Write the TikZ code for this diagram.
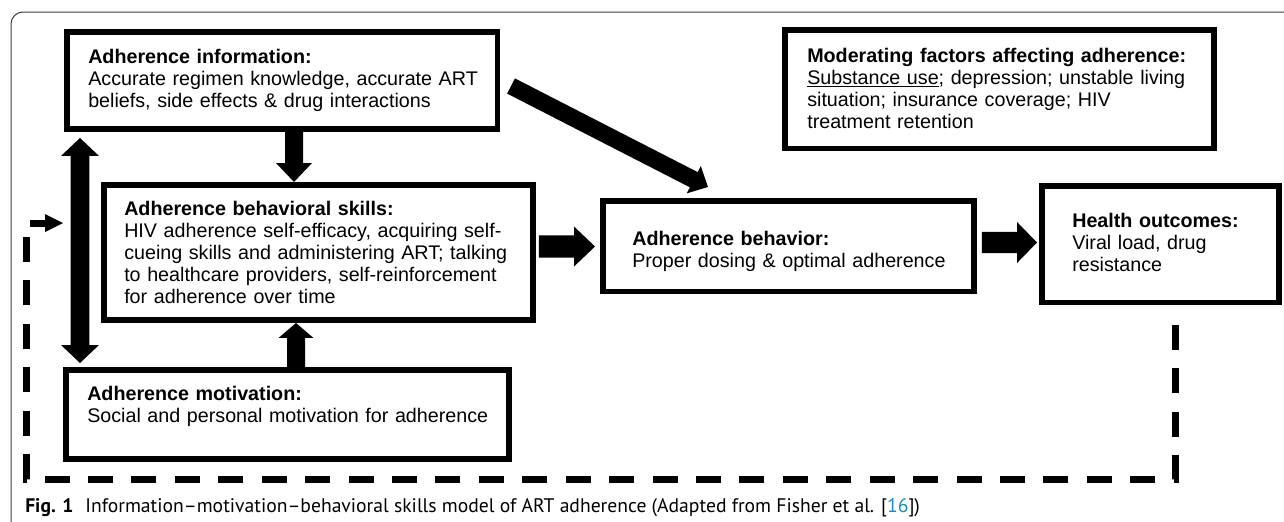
\documentclass[tikz,border=0pt]{standalone}
\usepackage{fontspec}
\usepackage{graphicx}
\setmainfont{Liberation Sans}
\newfontfamily\capfont{PT Sans}
\usetikzlibrary{calc}
\definecolor{refblue}{RGB}{30,136,210}
\newcommand{\fsz}{\fontsize{14.78pt}{16.5pt}\selectfont}
% block arrow: from A to B, shaft half width, head half width, head length
\newcommand{\barrow}[5]{%
  \path ($(#2)!#5!(#1)$) coordinate (bC);
  \fill ($(#1)!#3!90:(#2)$) -- ($(bC)!#3!90:(#2)$) -- ($(bC)!#4!90:(#2)$) -- (#2)
    -- ($(bC)!#4!-90:(#2)$) -- ($(bC)!#3!-90:(#2)$) -- ($(#1)!#3!-90:(#2)$) -- cycle;}
% double block arrow
\newcommand{\dbarrow}[5]{%
  \path ($(#1)!#5!(#2)$) coordinate (dC1) ($(#2)!#5!(#1)$) coordinate (dC2);
  \fill (#1) -- ($(dC1)!#4!90:(#2)$) -- ($(dC1)!#3!90:(#2)$) -- ($(dC2)!#3!90:(#2)$)
    -- ($(dC2)!#4!90:(#2)$) -- (#2) -- ($(dC2)!#4!-90:(#2)$) -- ($(dC2)!#3!-90:(#2)$)
    -- ($(dC1)!#3!-90:(#2)$) -- ($(dC1)!#4!-90:(#2)$) -- cycle;}
\begin{document}
\begin{tikzpicture}[x=0.75pt,y=-0.75pt,
  box/.style={draw, line width=4.125pt, inner sep=0pt, anchor=north west},
  txt/.style={anchor=base west, inner sep=0pt, align=left, font=\fsz},
  fb/.style={line width=5.25pt, dash pattern=on 18.75pt off 13.82pt, line join=miter}]
\useasboundingbox (0,0) rectangle (1284,521);
\fill[white] (0,0) rectangle (1284,521);
% outer frame
\draw[line width=0.75pt, draw=black!75, rounded corners=9pt] (11,540) -- (11,12) -- (1300,12);

% boxes
\node[box, minimum width=322.9pt, minimum height=73.1pt] (info) at (64,29) {};
\node[box, minimum width=322.1pt, minimum height=101.6pt] (skills) at (101,182) {};
\node[box, minimum width=332.6pt, minimum height=67.1pt] (motiv) at (63,367) {};
\node[box, minimum width=278.6pt, minimum height=67.9pt] (behav) at (600,198) {};
\node[box, minimum width=178.1pt, minimum height=87.4pt] (health) at (1039,183) {};
\node[box, minimum width=322.1pt, minimum height=88.9pt] (moder) at (782,27) {};

% texts
\node[txt, text width=320pt] (infot) at (88,63) {\textbf{Adherence information:}\\Accurate regimen knowledge, accurate ART\\beliefs, side effects \& drug interactions};
\node[txt, text width=320pt] (skillst) at (124,215) {\textbf{Adherence behavioral skills:}\\HIV adherence self-efficacy, acquiring self-\\cueing skills and administering ART; talking\\to healthcare providers, self-reinforcement\\for adherence over time};
\node[txt, text width=320pt] (motivt) at (87,400) {\textbf{Adherence motivation:}\\Social and personal motivation for adherence};
\node[txt, text width=260pt] (behavt) at (632,245) {\textbf{Adherence behavior:}\\Proper dosing \& optimal adherence};
\node[txt, text width=160pt] (healtht) at (1072,227) {\textbf{Health outcomes:}\\Viral load, drug\\resistance};
\node[txt, text width=320pt] (modert) at (807,62) {\textbf{Moderating factors affecting adherence:}\\\underline{Substance use}; depression; unstable living\\situation; insurance coverage; HIV\\treatment retention};

% helper coordinates
\path (294,0) coordinate (c294) (296,0) coordinate (c296) (80,0) coordinate (c80)
      (1175,0) coordinate (c1175) (26,0) coordinate (c26)
      (0,246.5) coordinate (r246) (0,242.5) coordinate (r242)
      (0,223) coordinate (r223) (0,479) coordinate (r479);

% info -> skills
\path (info.south -| c294) coordinate (a1s) (skills.north -| c294) coordinate (a1e);
\barrow{a1s}{a1e}{6.75pt}{13.5pt}{14.25pt}
% motiv -> skills
\path (motiv.north -| c296) coordinate (a2s) (skills.south -| c296) coordinate (a2e);
\barrow{a2s}{a2e}{6.75pt}{13.1pt}{11.25pt}
% info <-> motiv
\path ($(info.south -| c80)+(0,6)$) coordinate (d1) ($(motiv.north -| c80)+(0,-4)$) coordinate (d2);
\dbarrow{d1}{d2}{7.1pt}{14.25pt}{13.5pt}
% info -> behav (diagonal)
\path ($(info.north east)+(11,57)$) coordinate (g1) ($(behav.north west)+(108,-11)$) coordinate (g2);
\barrow{g1}{g2}{6.4pt}{11.5pt}{12pt}
% skills -> behav
\path ($(skills.east |- r246)+(3,0)$) coordinate (h1) ($(behav.west |- r246)+(-5,0)$) coordinate (h2);
\barrow{h1}{h2}{8.4pt}{15pt}{15.75pt}
% behav -> health
\path ($(behav.east |- r242)+(5,0)$) coordinate (k1) ($(health.west |- r242)+(-2,0)$) coordinate (k2);
\barrow{k1}{k2}{7.9pt}{15.4pt}{15pt}

% feedback dashed line
\path ($(health.south -| c1175)+(0,20)$) coordinate (f0)
      (c1175 |- r479) coordinate (f1) (c26 |- r479) coordinate (f2)
      (c26 |- r223) coordinate (f3) ($(f3)+(19,0)$) coordinate (f4) ($(f3)+(37,0)$) coordinate (f5);
\draw[fb] (f0) -- (f1) -- (f2) -- (f3) -- (f4);
\fill ($(f4)+(0,-9)$) -- (f5) -- ($(f4)+(0,9)$) -- cycle;

% caption
\node[anchor=base west, inner sep=0pt] (cap) at (25,512) {\resizebox{671pt}{!}{\capfont\textbf{Fig. 1}\hspace{0.6em}Information–motivation–behavioral skills model of ART adherence (Adapted from Fisher et al. [\textcolor{refblue}{16}])}};
\end{tikzpicture}
\end{document}
